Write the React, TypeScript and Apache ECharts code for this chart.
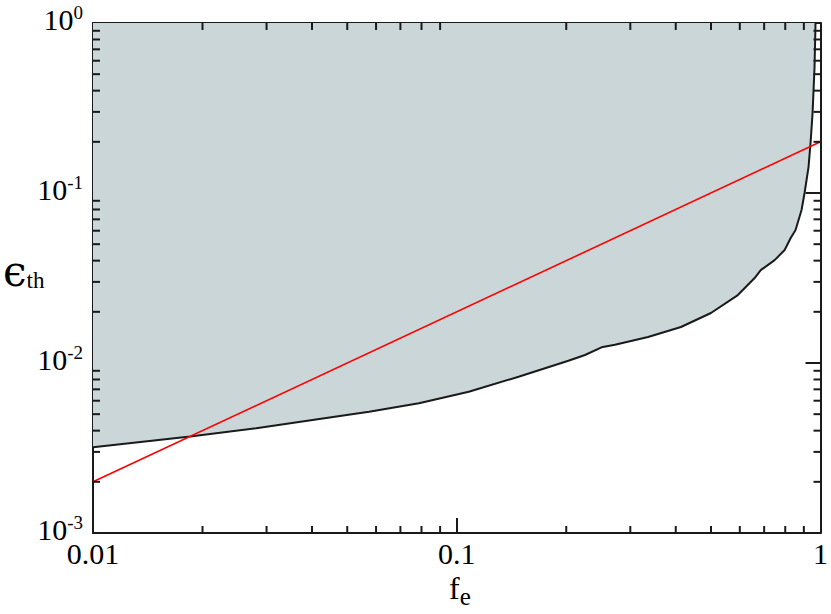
import React, { useEffect, useRef } from "react";
import * as echarts from "echarts";

// Boundary curve (black) f_e vs epsilon_th
const curveX = [0.01, 0.0185, 0.0281, 0.0419, 0.0574, 0.0787, 0.1079, 0.1479, 0.2027, 0.2252, 0.25, 0.2722, 0.3357, 0.4134, 0.4998, 0.5926, 0.659, 0.685, 0.748, 0.797, 0.828, 0.854, 0.887, 0.904, 0.927, 0.939, 0.951, 0.963, 0.969];
const curveY = [0.00319, 0.00369, 0.00413, 0.00468, 0.00517, 0.00579, 0.00678, 0.0083, 0.0103, 0.01114, 0.01237, 0.01282, 0.01422, 0.01628, 0.01968, 0.0251, 0.0316, 0.0352, 0.0403, 0.0462, 0.0544, 0.0606, 0.0794, 0.1, 0.142, 0.197, 0.295, 0.551, 1.0];

// Red line
const redX = [0.01, 1];
const redY = [0.002, 0.2];

// Axis ranges
const xMin = 0.01, xMax = 1;
const yMin = 0.001, yMax = 1;
const xTickLabels: Record<string, string> = { "-2": "0.01", "-1": "0.1", "0": "1" };

// minor ticks (2..9 within each decade)
const minorMults = [2, 3, 4, 5, 6, 7, 8, 9];
const xDecades = [0.01, 0.1];
const yDecades = [0.001, 0.01, 0.1];

const FONT = "'Liberation Serif', 'Times New Roman', serif";

export default function App() {
  const ref = useRef<HTMLDivElement>(null);
  useEffect(() => {
    if (!ref.current) return;
    const chart = echarts.init(ref.current, null, { renderer: "svg" });
    const xMinor: number[][] = [];
    xDecades.forEach((d) => minorMults.forEach((m) => xMinor.push([d * m, yMin])));
    const yMinor: number[][] = [];
    yDecades.forEach((d) => minorMults.forEach((m) => yMinor.push([xMin, d * m])));

    const axisLine = { show: true, lineStyle: { color: "#1a1a1a", width: 2 } };
    const majorTick = { show: true, inside: true, length: 15, lineStyle: { color: "#1a1a1a", width: 2 } };

    const minorTickRender = (dir: "x" | "y") => (params: any, api: any) => {
      const cs = params.coordSys;
      const v = api.value(dir === "x" ? 0 : 1);
      const L = 7;
      const style = { stroke: "#1a1a1a", lineWidth: 2 };
      if (dir === "x") {
        const p = api.coord([v, yMin]);
        return {
          type: "group",
          children: [
            { type: "line", shape: { x1: p[0], y1: cs.y + cs.height, x2: p[0], y2: cs.y + cs.height - L }, style },
            { type: "line", shape: { x1: p[0], y1: cs.y, x2: p[0], y2: cs.y + L }, style },
          ],
        };
      }
      const p = api.coord([xMin, v]);
      return {
        type: "group",
        children: [
          { type: "line", shape: { x1: cs.x, y1: p[1], x2: cs.x + L, y2: p[1] }, style },
          { type: "line", shape: { x1: cs.x + cs.width, y1: p[1], x2: cs.x + cs.width - L, y2: p[1] }, style },
        ],
      };
    };

    const option: any = {
      animation: false,
      backgroundColor: "#ffffff",
      grid: { left: 93, top: 23, right: 8, bottom: 81 },
      xAxis: [
        {
          type: "log",
          min: xMin,
          max: xMax,
          logBase: 10,
          axisLine,
          axisTick: majorTick,
          splitLine: { show: false },
          axisLabel: {
            margin: 5,
            color: "#000",
            fontFamily: FONT,
            fontSize: 30,
            formatter: (v: number) => xTickLabels[String(Math.round(Math.log10(v)))] ?? String(v),
          },
        },
        {
          type: "log",
          position: "top",
          min: xMin,
          max: xMax,
          axisLine,
          axisTick: majorTick,
          axisLabel: { show: false },
          splitLine: { show: false },
        },
      ],
      yAxis: [
        {
          type: "log",
          min: yMin,
          max: yMax,
          logBase: 10,
          axisLine,
          axisTick: majorTick,
          splitLine: { show: false },
          axisLabel: {
            margin: 10,
            color: "#000",
            padding: [0, 0, 8, 0],
            formatter: (v: number) => `{b|10}{s|${Math.round(Math.log10(v))}}`,
            rich: {
              b: { fontFamily: FONT, fontSize: 30, color: "#000" },
              s: { fontFamily: FONT, fontSize: 19, color: "#000", padding: [0, 0, 14, 0] },
            },
          },
        },
        {
          type: "log",
          position: "right",
          min: yMin,
          max: yMax,
          axisLine,
          axisTick: majorTick,
          axisLabel: { show: false },
          splitLine: { show: false },
        },
      ],
      graphic: [
        {
          type: "text",
          left: 3,
          top: 250,
          style: {
            text: "{a|ϵ}{b|th}",
            rich: {
              a: { fontFamily: "'DejaVu Serif', serif", fontSize: 42, fill: "#000" },
              b: { fontFamily: FONT, fontSize: 23, fill: "#000", padding: [18, 0, 0, 0] },
            },
          },
        },
        {
          type: "text",
          left: 449,
          top: 572,
          style: {
            text: "{a|f}{b|e}",
            rich: {
              a: { fontFamily: FONT, fontSize: 32, fill: "#000" },
              b: { fontFamily: FONT, fontSize: 25, fill: "#000", padding: [16, 0, 0, 0] },
            },
          },
        },
      ],
      series: [
        {
          type: "line",
          data: curveX.map((x, i) => [x, curveY[i]]),
          showSymbol: false,
          smooth: false,
          lineStyle: { color: "#1a1a1a", width: 2 },
          areaStyle: { origin: "end", color: "#cad6d8", opacity: 1 },
          z: 2,
        },
        {
          type: "line",
          data: redX.map((x, i) => [x, redY[i]]),
          showSymbol: false,
          lineStyle: { color: "#ff0000", width: 1.6 },
          z: 3,
        },
        {
          type: "custom",
          data: xMinor,
          renderItem: minorTickRender("x"),
          z: 4,
          silent: true,
        },
        {
          type: "custom",
          data: yMinor,
          renderItem: minorTickRender("y"),
          z: 4,
          silent: true,
        },
      ],
    };
    chart.setOption(option);
    return () => chart.dispose();
  }, []);
  return (
    <div
      ref={ref}
      style={{ position: "fixed", left: 0, top: 0, width: 831, height: 614 }}
    />
  );
}
